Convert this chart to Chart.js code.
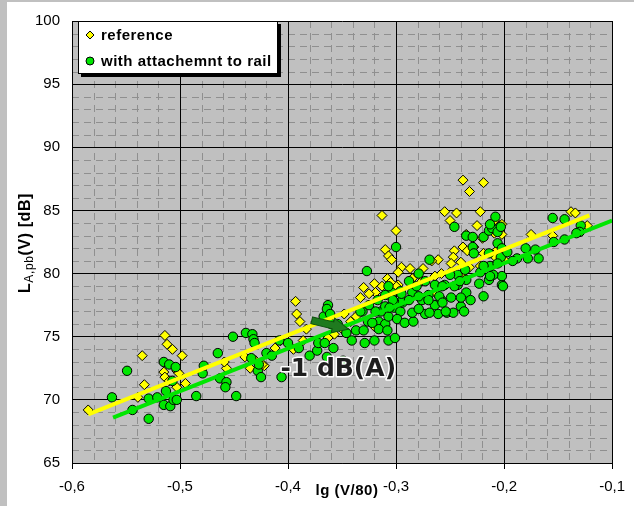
<!DOCTYPE html>
<html><head><meta charset="utf-8">
<script src="https://cdn.jsdelivr.net/npm/chart.js@4/dist/chart.umd.min.js"></script>
<style>html,body{margin:0;padding:0;background:#fff;}#wrap{width:634px;height:506px;position:relative;}</style>
</head><body><div id="wrap"><canvas id="c" width="634" height="506"></canvas></div>
<script>
// ---- data ----
const xTicks = [-0.6, -0.5, -0.4, -0.3, -0.2, -0.1];
const yTicks = [65, 70, 75, 80, 85, 90, 95, 100];
const seriesNames = ['reference', 'with attachemnt to rail'];
const annotationText = '-1 dB(A)';
const xTitle = 'lg (V/80)';

const referencePoints = [
 [-0.585,69.2],[-0.514,75.1],[-0.512,74.4],[-0.507,74.0],[-0.498,73.5],[-0.535,73.5],[-0.515,72.2],[-0.503,72.3],
 [-0.514,71.8],[-0.533,71.2],[-0.495,71.3],[-0.539,70.2],[-0.503,71.0],[-0.510,71.5],[-0.501,72.1],
 [-0.393,77.8],[-0.392,76.8],[-0.389,76.2],[-0.440,73.4],[-0.435,72.5],[-0.457,72.5],[-0.459,73.0],[-0.412,74.1],
 [-0.395,74.0],[-0.422,72.7],[-0.383,75.6],[-0.407,74.7],[-0.386,74.7],[-0.363,74.9],[-0.357,75.2],[-0.430,73.1],
 [-0.424,72.8],[-0.330,78.9],[-0.320,79.2],[-0.308,79.6],[-0.319,78.5],[-0.298,79.1],[-0.342,76.2],[-0.348,76.8],
 [-0.313,84.6],[-0.300,83.4],[-0.310,81.9],[-0.307,81.4],[-0.304,81.1],[-0.295,80.5],[-0.287,80.4],[-0.275,80.4],
 [-0.261,81.1],[-0.255,84.9],[-0.244,84.8],[-0.250,84.2],[-0.238,87.4],[-0.232,86.5],[-0.235,83.1],[-0.246,81.8],
 [-0.247,81.3],[-0.238,82.1],[-0.234,81.8],[-0.249,80.8],[-0.240,80.9],[-0.219,87.2],[-0.222,84.9],[-0.202,83.9],
 [-0.202,83.1],[-0.225,83.8],[-0.175,83.1],[-0.155,83.0],[-0.138,84.9],[-0.134,84.8],[-0.123,83.8],[-0.220,82.8],
 [-0.228,82.1],[-0.206,81.9],[-0.208,81.3],[-0.200,81.1],[-0.267,81.0],[-0.219,81.6],[-0.209,83.2],[-0.298,80.1],
 [-0.285,79.6],[-0.276,79.4],[-0.313,79.0],[-0.300,79.0],[-0.232,80.5],[-0.222,80.6],[-0.211,80.6],[-0.203,80.9],
 [-0.258,80.0],[-0.250,80.1],[-0.238,79.8],[-0.264,79.8],[-0.325,78.4],[-0.333,78.1],[-0.264,78.5],[-0.346,75.3],
 [-0.351,75.7],[-0.337,76.6],[-0.320,75.8],[-0.305,79.3],[-0.209,84.2]
];

const railPoints = [
 [-0.549,72.3],[-0.563,70.2],[-0.544,69.2],[-0.529,68.5],[-0.515,73.0],[-0.510,72.8],[-0.504,72.6],[-0.529,70.1],
 [-0.521,70.2],[-0.515,69.6],[-0.509,69.5],[-0.506,70.0],[-0.503,70.0],[-0.513,70.7],[-0.507,71.5],[-0.485,70.3],
 [-0.479,72.1],[-0.478,72.7],[-0.465,73.7],[-0.451,75.0],[-0.448,70.3],[-0.463,71.7],[-0.457,71.4],[-0.458,71.0],
 [-0.439,75.3],[-0.433,75.2],[-0.432,74.8],[-0.431,74.5],[-0.434,73.3],[-0.428,72.3],[-0.425,71.8],[-0.427,72.8],
 [-0.420,73.7],[-0.415,73.5],[-0.406,71.8],[-0.408,74.7],[-0.400,74.5],[-0.390,74.1],[-0.380,73.5],[-0.373,73.9],
 [-0.372,74.5],[-0.366,74.5],[-0.367,76.6],[-0.363,77.5],[-0.364,77.2],[-0.361,76.8],[-0.364,73.4],[-0.358,74.1],
 [-0.349,73.1],[-0.341,74.7],[-0.337,75.5],[-0.329,74.5],[-0.320,74.7],[-0.331,77.0],[-0.326,76.2],[-0.316,76.2],
 [-0.310,76.0],[-0.307,76.6],[-0.314,77.0],[-0.302,77.3],[-0.296,77.0],[-0.294,77.7],[-0.346,75.3],[-0.360,76.0],
 [-0.354,76.0],[-0.327,80.2],[-0.307,74.7],[-0.316,75.6],[-0.308,75.5],[-0.301,74.9],[-0.330,75.5],[-0.322,76.1],
 [-0.299,76.4],[-0.292,76.1],[-0.284,76.2],[-0.285,76.9],[-0.273,76.8],[-0.261,76.8],[-0.253,76.9],[-0.247,76.9],
 [-0.240,77.4],[-0.264,77.5],[-0.258,77.9],[-0.276,77.9],[-0.270,78.3],[-0.285,78.5],[-0.295,77.8],[-0.296,78.6],
 [-0.304,78.5],[-0.302,77.8],[-0.281,79.0],[-0.273,79.4],[-0.264,79.1],[-0.255,79.1],[-0.243,79.1],[-0.235,79.5],
 [-0.235,78.5],[-0.240,78.1],[-0.243,79.9],[-0.250,79.9],[-0.288,79.4],[-0.310,77.4],[-0.319,77.0],[-0.325,77.5],
 [-0.333,77.0],[-0.310,78.3],[-0.317,77.9],[-0.307,79.0],[-0.300,82.1],[-0.246,83.7],[-0.235,83.0],[-0.229,82.9],
 [-0.219,82.9],[-0.214,83.4],[-0.211,83.6],[-0.206,83.3],[-0.203,83.7],[-0.269,81.1],[-0.279,80.0],[-0.229,82.1],
 [-0.228,81.6],[-0.214,81.6],[-0.206,82.4],[-0.202,82.0],[-0.203,81.3],[-0.202,79.1],[-0.202,79.8],[-0.219,78.2],
 [-0.231,77.9],[-0.246,79.0],[-0.249,78.1],[-0.223,79.2],[-0.214,79.5],[-0.210,79.9],[-0.213,80.6],[-0.222,80.1],
 [-0.236,80.3],[-0.241,79.4],[-0.257,79.0],[-0.260,78.2],[-0.270,77.9],[-0.279,78.2],[-0.288,77.9],[-0.295,78.4],
 [-0.303,77.9],[-0.306,77.3],[-0.257,77.7],[-0.254,77.0],[-0.269,76.9],[-0.279,77.2],[-0.208,84.5],[-0.213,83.9],
 [-0.155,84.4],[-0.144,84.3],[-0.129,83.8],[-0.130,83.3],[-0.133,83.2],[-0.144,82.7],[-0.154,82.5],[-0.171,81.9],
 [-0.180,82.0],[-0.168,81.2],[-0.178,81.2],[-0.188,81.2],[-0.197,81.7],[-0.206,80.8],[-0.219,80.6],[-0.201,79.0],
 [-0.237,77.0],[-0.213,79.8],[-0.192,81.0]
];

const referenceFit = [[-0.585, 68.85], [-0.121, 84.6]];
const railFit = [[-0.562, 68.6], [-0.100, 84.2]];
const arrowFrom = [-0.378, 76.3];
const arrowTo = [-0.344, 75.6];
const annotationAt = [-0.3535, 71.9];

// ---- chart ----
const YELLOW = '#ffff00';
const GREEN = '#00e600';
const toXY = a => a.map(([x, y]) => ({x, y}));
const FONT = '"Liberation Sans", Arial, sans-serif';

const bgPlugin = {
  id: 'bg',
  beforeDraw(chart) {
    const {ctx, chartArea: a, scales: {x, y}} = chart;
    ctx.save();
    ctx.fillStyle = '#ffffff';
    ctx.fillRect(0, 0, chart.width, chart.height);
    ctx.fillStyle = '#c0c0c0';
    ctx.fillRect(0, 0, 7, chart.height);
    ctx.fillRect(0, 0, chart.width, 2);
    ctx.fillRect(a.left, a.top, a.right - a.left, a.bottom - a.top);
    // minor grid
    ctx.strokeStyle = '#8f8f8f';
    ctx.lineWidth = 1;
    ctx.setLineDash([7, 5]);
    for (let i = 1; i < 25; i++) {
      if (i % 5 === 0) continue;
      const v = -0.6 + i * 0.02;
      const px = Math.round(x.getPixelForValue(v)) + 0.5;
      ctx.beginPath(); ctx.moveTo(px, a.top); ctx.lineTo(px, a.bottom); ctx.stroke();
    }
    for (let i = 1; i < 35; i++) {
      if (i % 5 === 0) continue;
      const v = 65 + i;
      const py = Math.round(y.getPixelForValue(v)) + 0.5;
      ctx.beginPath(); ctx.moveTo(a.left, py); ctx.lineTo(a.right, py); ctx.stroke();
    }
    ctx.restore();
  },
  afterDatasetsDraw(chart) {
    const {ctx, scales: {x, y}} = chart;
    // arrow
    const x0 = x.getPixelForValue(arrowFrom[0]), y0 = y.getPixelForValue(arrowFrom[1]);
    const x1 = x.getPixelForValue(arrowTo[0]), y1 = y.getPixelForValue(arrowTo[1]);
    const ang = Math.atan2(y1 - y0, x1 - x0);
    const len = Math.hypot(x1 - x0, y1 - y0);
    ctx.save();
    ctx.translate(x0, y0);
    ctx.rotate(ang);
    const hl = 16, sw = 3.5, hw = 7.5;
    ctx.beginPath();
    ctx.moveTo(0, -sw); ctx.lineTo(len - hl, -sw); ctx.lineTo(len - hl, -hw);
    ctx.lineTo(len, 0); ctx.lineTo(len - hl, hw); ctx.lineTo(len - hl, sw); ctx.lineTo(0, sw);
    ctx.closePath();
    ctx.fillStyle = '#1f7a1f';
    ctx.fill();
    ctx.strokeStyle = '#0d4f0d';
    ctx.lineWidth = 1;
    ctx.stroke();
    ctx.restore();
    // annotation text
    ctx.save();
    ctx.font = 'bold 25px "DejaVu Sans", sans-serif';
    ctx.textAlign = 'center';
    ctx.textBaseline = 'alphabetic';
    const tx = x.getPixelForValue(annotationAt[0]), ty = y.getPixelForValue(annotationAt[1]);
    ctx.lineJoin = 'round';
    ctx.strokeStyle = '#ffffff';
    ctx.lineWidth = 3;
    ctx.strokeText(annotationText, tx, ty);
    ctx.fillStyle = '#1e1e1e';
    ctx.fillText(annotationText, tx, ty);
    ctx.restore();
  },
  afterDraw(chart) {
    const {ctx} = chart;
    ctx.save();
    // legend box
    const bx = 78, by = 21, bw = 200, bh = 53;
    ctx.fillStyle = '#000';
    ctx.fillRect(bx + 3, by + 3, bw, bh);
    ctx.fillStyle = '#fff';
    ctx.fillRect(bx, by, bw, bh);
    ctx.strokeStyle = '#000';
    ctx.lineWidth = 1;
    ctx.strokeRect(bx + 0.5, by + 0.5, bw - 1, bh - 1);
    // markers
    ctx.beginPath();
    const mx = 90, my1 = 35, my2 = 61;
    ctx.moveTo(mx, my1 - 4); ctx.lineTo(mx + 4, my1); ctx.lineTo(mx, my1 + 4); ctx.lineTo(mx - 4, my1); ctx.closePath();
    ctx.fillStyle = YELLOW; ctx.fill(); ctx.stroke();
    ctx.beginPath(); ctx.arc(mx, my2, 4, 0, Math.PI * 2);
    ctx.fillStyle = GREEN; ctx.fill(); ctx.stroke();
    ctx.fillStyle = '#000';
    ctx.font = 'bold 15px ' + FONT;
    try { ctx.letterSpacing = '0.5px'; } catch (e) {}
    ctx.textBaseline = 'alphabetic';
    ctx.fillText(seriesNames[0], 101, 40);
    ctx.fillText(seriesNames[1], 101, 66);
    // x title
    ctx.textAlign = 'center';
    ctx.fillText(xTitle, 347, 495);
    // y title (rotated)
    ctx.translate(30, 293);
    ctx.rotate(-Math.PI / 2);
    ctx.textAlign = 'left';
    try { ctx.letterSpacing = '0.6px'; } catch (e) {}
    let px = 0;
    ctx.font = 'bold 16px ' + FONT;
    ctx.fillText('L', px, 0); px += ctx.measureText('L').width;
    ctx.font = '12px ' + FONT;
    ctx.fillText('A,pb', px, 3); px += ctx.measureText('A,pb').width;
    ctx.font = 'bold 16px ' + FONT;
    ctx.fillText('(V) [dB]', px, 0);
    ctx.restore();
  }
};

new Chart(document.getElementById('c'), {
  type: 'scatter',
  data: {
    datasets: [
      { label: seriesNames[0], data: toXY(referencePoints), pointStyle: 'rectRot', pointRadius: 5,
        backgroundColor: YELLOW, borderColor: '#000', borderWidth: 1, order: 4 },
      { label: seriesNames[1], data: toXY(railPoints), pointStyle: 'circle', pointRadius: 4.7,
        backgroundColor: GREEN, borderColor: '#000', borderWidth: 1, order: 3 },
      { label: 'fit reference', data: toXY(referenceFit), showLine: true, pointRadius: 0,
        borderColor: YELLOW, borderWidth: 4, order: 2 },
      { label: 'fit rail', data: toXY(railFit), showLine: true, pointRadius: 0,
        borderColor: GREEN, borderWidth: 4, order: 1 }
    ]
  },
  options: {
    responsive: false,
    animation: false,
    devicePixelRatio: 1,
    layout: { padding: { top: 17, right: 14, left: 0, bottom: 0 }, autoPadding: false },
    plugins: { legend: { display: false }, tooltip: { enabled: false } },
    scales: {
      x: {
        type: 'linear', min: -0.6, max: -0.1,
        afterBuildTicks: s => { s.ticks = xTicks.map(v => ({ value: v })); },
        afterFit: s => { s.height = 43; },
        ticks: { color: '#000', font: { family: FONT, size: 15 }, padding: 9, maxRotation: 0,
          callback: v => v.toFixed(1).replace('.', ',') },
        grid: { color: '#000', lineWidth: 1, tickLength: 6, tickColor: '#000', drawTicks: true },
        border: { color: '#000', width: 1 }
      },
      y: {
        type: 'linear', min: 65, max: 100,
        afterBuildTicks: s => { s.ticks = yTicks.map(v => ({ value: v })); },
        afterFit: s => { s.width = 72; },
        ticks: { color: '#000', font: { family: FONT, size: 15 }, padding: 12,
          callback: v => String(v) },
        grid: { color: '#000', lineWidth: 1, drawTicks: false },
        border: { color: '#000', width: 1 }
      }
    }
  },
  plugins: [bgPlugin]
});
</script>
</body></html>
